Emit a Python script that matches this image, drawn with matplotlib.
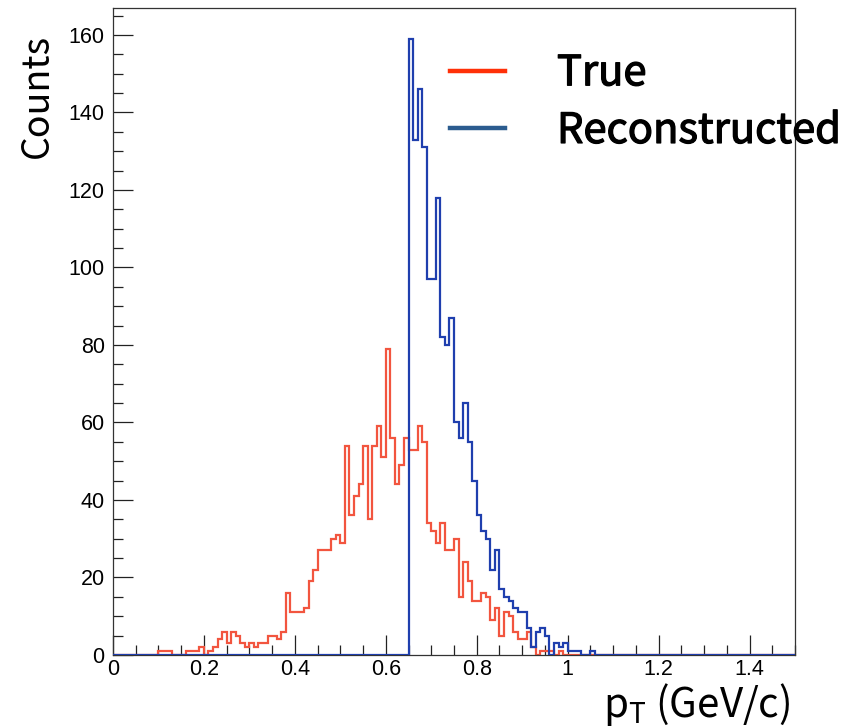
import matplotlib.pyplot as plt
import matplotlib.patheffects as pe
from matplotlib.lines import Line2D
from matplotlib.ticker import MultipleLocator, FixedLocator, FixedFormatter
import numpy as np

# pT histograms, 150 bins of 0.01 GeV/c from 0 to 1.5
bin_edges = np.linspace(0.0, 1.5, 151)

true_counts = [
    0, 0, 0, 0, 0, 0, 0, 0, 0, 0,
    1, 1, 1, 0, 0, 0, 1, 1, 1, 2,
    0, 1, 2, 4, 6, 3, 6, 5, 3, 2,
    3, 2, 3, 3, 5, 5, 4, 6, 16, 11,
    11, 11, 12, 19, 22, 27, 27, 27, 30, 31,
    29, 54, 36, 41, 44, 54, 35, 54, 59, 51,
    79, 56, 44, 49, 56, 53, 53, 59, 55, 34,
    32, 29, 34, 27, 27, 30, 15, 24, 19, 14,
    14, 16, 15, 9, 12, 5, 11, 10, 6, 4,
    4, 6, 2, 0, 1, 1, 1, 0, 1, 0,
] + [0] * 50

reco_counts = [0] * 65 + [
    159, 133, 146, 131, 97,
    97, 118, 82, 80, 87, 60, 56, 65, 55, 45,
    36, 32, 30, 22, 27, 17, 15, 14, 12, 11,
    11, 7, 2, 6, 7, 5, 0, 3, 2, 3,
    1, 1, 1, 0, 0, 1,
] + [0] * 44

x_tick_values = [0, 0.2, 0.4, 0.6, 0.8, 1.0, 1.2, 1.4]
x_tick_labels = ["0", "0.2", "0.4", "0.6", "0.8", "1", "1.2", "1.4"]
y_tick_values = [0, 20, 40, 60, 80, 100, 120, 140, 160]
y_tick_labels = ["0", "20", "40", "60", "80", "100", "120", "140", "160"]

label_font = ["Noto Sans CJK KR", "DejaVu Sans"]
tick_font = ["Liberation Sans", "DejaVu Sans"]
plt.rcParams["mathtext.fontset"] = "custom"
plt.rcParams["mathtext.rm"] = "Noto Sans CJK KR"

W, H = 852, 728
fig = plt.figure(figsize=(W / 100, H / 100), dpi=100)
ax = fig.add_axes([113 / W, (H - 655) / H, 682 / W, (655 - 8) / H])

ax.stairs(true_counts, bin_edges, color="#f2553f", lw=1.6, zorder=2)
ax.stairs(reco_counts, bin_edges, color="#1f3fae", lw=1.6, zorder=3)

ax.set_xlim(0, 1.5)
ax.set_ylim(0, 1.05 * max(reco_counts))

# ROOT-style axes: ticks inside, only on bottom and left
ax.xaxis.set_major_locator(FixedLocator(x_tick_values))
ax.xaxis.set_major_formatter(FixedFormatter(x_tick_labels))
ax.xaxis.set_minor_locator(MultipleLocator(0.05))
ax.yaxis.set_major_locator(FixedLocator(y_tick_values))
ax.yaxis.set_major_formatter(FixedFormatter(y_tick_labels))
ax.yaxis.set_minor_locator(MultipleLocator(5))
ax.tick_params(which="both", direction="in", top=False, right=False,
               width=0.9, color="#222222")
ax.tick_params(which="major", length=14.5)
ax.tick_params(which="minor", length=7.5)
ax.tick_params(axis="x", pad=3)
ax.tick_params(axis="y", pad=6)
for lab in ax.get_xticklabels() + ax.get_yticklabels():
    lab.set_family(tick_font)
    lab.set_fontsize(15.5)
for sp in ax.spines.values():
    sp.set_linewidth(0.9)
    sp.set_color("#333333")

ax.set_xlabel(r"p$_\mathregular{T}$ (GeV/c)", family=label_font,
              fontsize=29, ha="right")
ax.xaxis.set_label_coords(0.993, -0.04, transform=ax.transAxes)
ax.xaxis.label.set_va("top")
ax.set_ylabel("Counts", family=label_font, fontsize=27, ha="right")
ax.yaxis.set_label_coords(-0.082, 0.96, transform=ax.transAxes)

handles = [Line2D([], [], color="#ff3008", lw=3.2),
           Line2D([], [], color="#2b5c8f", lw=3.2)]
leg = ax.legend(handles, ["True", "Reconstructed"], loc="upper left",
                bbox_to_anchor=(0.494, 0.93), frameon=False,
                borderpad=0, borderaxespad=0,
                handlelength=1.32, handletextpad=1.25, labelspacing=0.4,
                prop={"family": label_font, "size": 30})
leg.set_zorder(5)
# slightly heavier legend lettering
for t in leg.get_texts():
    t.set_path_effects([pe.Stroke(linewidth=0.9, foreground="black"), pe.Normal()])

fig.savefig("out.png", dpi=100)
